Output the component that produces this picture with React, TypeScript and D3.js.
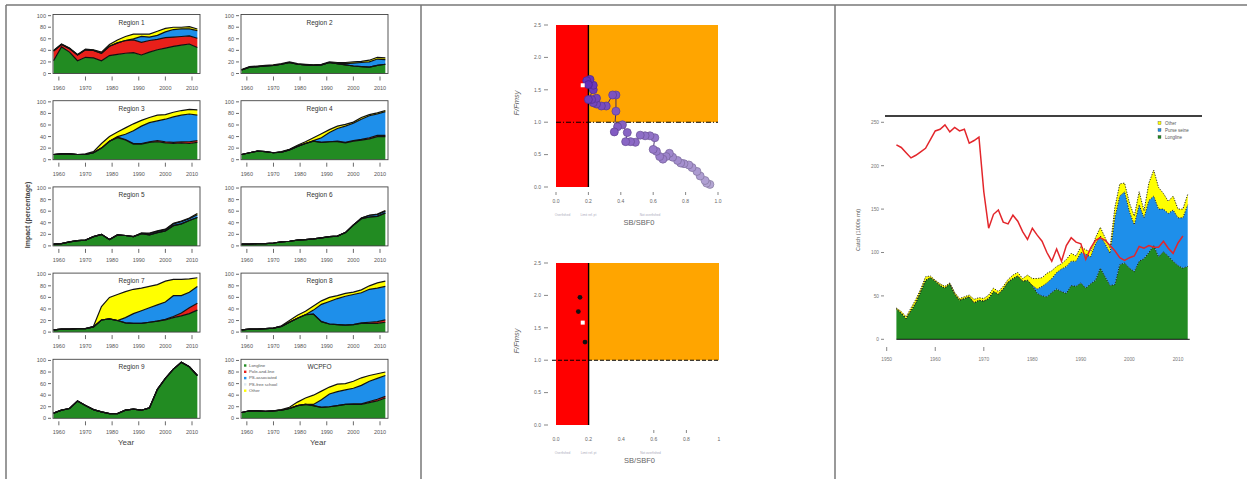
import React from "react";
import * as d3 from "d3";

// ---------- Regional fishery impact panels ----------
const impactYears = [1958, 1961, 1964, 1967, 1970, 1973, 1976, 1979, 1982, 1985, 1988, 1991, 1994, 1997, 2000, 2003, 2006, 2009, 2012];
const impactYearTicks = [1960, 1970, 1980, 1990, 2000, 2010];
const impactValueTicks = [0, 20, 40, 60, 80, 100];

const region1 = {
  longline: [22, 46, 37, 22, 28, 27, 22, 31, 33, 35, 36, 32, 37, 41, 44, 47, 49, 51, 45],
  poleLine: [17, 4, 6, 10, 13, 13, 13, 16, 20, 22, 22, 22, 20, 18, 18, 16, 15, 14, 16],
  psAssoc: [0, 0, 0, 0, 0, 0, 0, 0, 0, 0, 2, 10, 6, 7, 10, 13, 13, 12, 13],
  other: [1, 1, 1, 1, 1, 1, 2, 3, 5, 7, 8, 4, 5, 7, 6, 4, 3, 4, 3],
};
const region2 = {
  longline: [6, 11, 12, 13, 14, 16, 19, 16, 15, 14, 15, 19, 17, 15, 13, 12, 11, 14, 16],
  poleLine: [0, 0, 0, 0, 0, 0, 0, 0, 0, 0, 0, 0, 0, 0, 0, 0, 0, 0, 0],
  psAssoc: [0, 0, 0, 0, 0, 0, 0, 0, 0, 0, 0, 0, 0, 2, 5, 7, 9, 11, 8],
  other: [1, 1, 1, 1, 1, 1, 1, 1, 1, 1, 1, 1, 2, 2, 2, 2, 3, 3, 3],
};
const region3 = {
  longline: [9, 10, 10, 9, 9, 12, 20, 32, 38, 34, 27, 27, 30, 31, 29, 28, 29, 28, 30],
  poleLine: [0, 0, 0, 0, 0, 0, 0, 0, 1, 1, 1, 1, 1, 2, 2, 2, 2, 3, 3],
  psAssoc: [0, 0, 0, 0, 0, 0, 0, 0, 1, 9, 22, 30, 33, 34, 39, 44, 46, 48, 44],
  other: [0, 0, 0, 0, 1, 2, 8, 8, 8, 11, 12, 10, 9, 10, 8, 8, 8, 8, 9],
};
const region4 = {
  longline: [9, 12, 15, 14, 12, 13, 17, 23, 28, 32, 30, 31, 31, 29, 32, 34, 36, 40, 40],
  poleLine: [0, 0, 0, 0, 0, 0, 0, 0, 0, 0, 0, 0, 1, 1, 1, 1, 2, 2, 2],
  psAssoc: [0, 0, 0, 0, 0, 0, 0, 0, 0, 1, 8, 16, 22, 28, 30, 35, 38, 37, 41],
  other: [0, 0, 0, 0, 0, 1, 1, 2, 3, 5, 7, 5, 4, 3, 2, 3, 2, 2, 2],
};
const region5 = {
  longline: [3, 4, 7, 9, 10, 16, 20, 11, 19, 18, 16, 21, 19, 23, 26, 35, 38, 44, 49],
  poleLine: [0, 0, 0, 0, 0, 0, 0, 0, 0, 0, 0, 0, 0, 0, 0, 0, 0, 0, 0],
  psAssoc: [0, 0, 0, 0, 0, 0, 0, 0, 0, 0, 0, 1, 2, 2, 2, 3, 4, 3, 5],
  other: [0, 0, 0, 0, 0, 0, 0, 0, 0, 0, 0, 0, 1, 1, 1, 1, 1, 1, 2],
};
const region6 = {
  longline: [3, 3, 4, 4, 5, 7, 8, 10, 11, 12, 14, 16, 17, 23, 36, 47, 50, 51, 57],
  poleLine: [0, 0, 0, 0, 0, 0, 0, 0, 0, 0, 0, 0, 0, 0, 0, 0, 0, 0, 0],
  psAssoc: [0, 0, 0, 0, 0, 0, 0, 0, 0, 0, 0, 0, 0, 0, 0, 1, 3, 3, 3],
  other: [0, 0, 0, 0, 0, 0, 0, 0, 0, 0, 0, 0, 0, 0, 0, 0, 0, 1, 1],
};
const region7 = {
  longline: [4, 5, 5, 6, 6, 9, 21, 23, 20, 16, 15, 15, 17, 19, 21, 25, 28, 32, 38],
  poleLine: [0, 0, 0, 0, 0, 0, 0, 0, 0, 0, 0, 0, 0, 0, 1, 2, 5, 10, 12],
  psAssoc: [0, 0, 0, 0, 0, 0, 0, 0, 0, 9, 17, 22, 25, 28, 30, 36, 30, 27, 29],
  other: [0, 0, 0, 0, 0, 1, 23, 37, 45, 45, 42, 39, 37, 35, 36, 28, 28, 23, 15],
};
const region8 = {
  longline: [4, 5, 5, 6, 7, 10, 17, 24, 30, 31, 18, 14, 13, 12, 13, 15, 15, 15, 17],
  poleLine: [0, 0, 0, 0, 0, 0, 0, 0, 0, 0, 0, 0, 0, 0, 0, 1, 2, 3, 4],
  psAssoc: [0, 0, 0, 0, 0, 0, 0, 0, 0, 7, 30, 39, 45, 50, 52, 52, 57, 58, 58],
  other: [0, 0, 0, 0, 0, 1, 3, 5, 6, 7, 6, 7, 5, 5, 4, 5, 6, 9, 9],
};
const region9 = {
  longline: [9, 14, 17, 30, 22, 15, 11, 8, 8, 14, 16, 14, 18, 50, 69, 85, 97, 89, 74],
  poleLine: [0, 0, 0, 0, 0, 0, 0, 0, 0, 0, 0, 0, 0, 0, 0, 0, 0, 0, 0],
  psAssoc: [0, 0, 0, 0, 0, 0, 0, 0, 0, 0, 0, 0, 0, 0, 0, 0, 0, 0, 0],
  other: [0, 0, 0, 0, 0, 0, 0, 0, 0, 0, 0, 0, 0, 0, 0, 0, 0, 0, 0],
};
const wcpfo = {
  longline: [10, 13, 13, 12, 13, 14, 17, 22, 24, 22, 19, 20, 22, 24, 24, 24, 27, 30, 35],
  poleLine: [0, 0, 0, 0, 0, 0, 0, 0, 0, 0, 0, 0, 0, 0, 1, 1, 2, 3, 3],
  psAssoc: [0, 0, 0, 0, 0, 0, 0, 0, 0, 2, 13, 22, 24, 25, 27, 32, 35, 36, 36],
  other: [0, 0, 0, 0, 0, 1, 2, 6, 11, 16, 15, 12, 13, 11, 12, 13, 10, 8, 6],
};

const panelTitles = ["Region 1", "Region 2", "Region 3", "Region 4", "Region 5", "Region 6", "Region 7", "Region 8", "Region 9", "WCPFO"];
const panelSeries = [region1, region2, region3, region4, region5, region6, region7, region8, region9, wcpfo];

const gearKeys = ["longline", "poleLine", "psAssoc", "other"];
const gearColors: Record<string, string> = {
  longline: "#228B22",
  poleLine: "#E8201A",
  psAssoc: "#1E8FEA",
  other: "#FFFF00",
};
const legendLabels = ["Longline", "Pole-and-line", "PS-associated", "PS-free school", "Other"];
const legendColors = ["#228B22", "#E8201A", "#1E8FEA", "#dfe9f2", "#FFFF00"];

// ---------- Kobe plots ----------
const kobeSB = [0.95, 0.93, 0.92, 0.89, 0.87, 0.84, 0.82, 0.79, 0.77, 0.75, 0.72, 0.70, 0.68, 0.66, 0.64, 0.62, 0.60, 0.61, 0.58, 0.55, 0.52, 0.49, 0.46, 0.43, 0.44, 0.41, 0.38, 0.36, 0.37, 0.37, 0.35, 0.31, 0.28, 0.25, 0.23, 0.25, 0.22, 0.20, 0.23, 0.23, 0.21, 0.19, 0.20];
const kobeF = [0.04, 0.06, 0.10, 0.17, 0.24, 0.30, 0.34, 0.36, 0.37, 0.41, 0.46, 0.52, 0.47, 0.43, 0.47, 0.55, 0.58, 0.76, 0.79, 0.79, 0.80, 0.69, 0.70, 0.70, 0.84, 0.96, 0.93, 0.85, 1.17, 1.42, 1.42, 1.25, 1.25, 1.28, 1.30, 1.37, 1.35, 1.35, 1.50, 1.57, 1.66, 1.64, 1.58];
const kobeLatest = { sb: 0.165, f: 1.57 };
const kobeAltSB = [0.147, 0.137, 0.178];
const kobeAltF = [1.97, 1.75, 1.28];
const kobeAltLatest = { sb: 0.164, f: 1.58 };
const kobeYTicks = [0, 0.5, 1.0, 1.5, 2.0, 2.5];
const kobeXTicks = [0, 0.2, 0.4, 0.6, 0.8, 1.0];

// ---------- Catch by gear with red index line ----------
const catchYears = d3.range(1952, 2013);
const catchLongline = [
  35, 30, 24, 33, 42, 55, 68, 71, 67, 62,
  59, 64, 52, 45, 47, 49, 42, 45, 44, 47,
  55, 52, 58, 66, 70, 73, 67, 68, 62, 53,
  50, 49, 54, 58, 55, 53, 62, 61, 65, 59,
  64, 68, 82, 72, 62, 63, 86, 88, 82, 78,
  90, 93, 100, 108, 95, 101, 96, 90, 85, 82,
  84,
];
const catchPurseSeine = [
  0, 0, 0, 0, 0, 0, 0, 0, 0, 0,
  0, 0, 0, 0, 0, 0, 0, 0, 0, 0,
  0, 0, 0, 0, 0, 0, 0, 0, 0, 5,
  11, 16, 16, 19, 26, 31, 28, 29, 35, 39,
  31, 42, 37, 38, 37, 77, 79, 82, 65, 54,
  65, 47, 60, 57, 55, 49, 49, 59, 55, 58,
  71,
];
const catchOther = [
  1, 2, 2, 3, 4, 3, 4, 2, 1, 2,
  2, 1, 2, 2, 2, 2, 4, 3, 3, 4,
  4, 3, 3, 3, 4, 4, 3, 6, 8, 12,
  10, 11, 9, 7, 6, 8, 9, 6, 7, 5,
  6, 7, 10, 7, 6, 12, 14, 10, 10, 10,
  15, 8, 20, 30, 25, 18, 14, 16, 10, 10,
  12,
];
const indexYears = d3.range(1952, 2012);
const indexLine = [
  224, 221, 215, 209, 212, 216, 220, 230, 240, 242,
  247, 239, 244, 240, 242, 226, 229, 233, 170, 128,
  144, 149, 135, 133, 143, 136, 124, 115, 128, 120,
  113, 100, 90, 104, 90, 108, 117, 112, 110, 92,
  105, 114, 117, 114, 108, 102, 94, 91, 94, 96,
  107, 105, 108, 106, 106, 113, 105, 99, 111, 119,
];
const catchYTicks = [0, 50, 100, 150, 200, 250];
const catchXTicks = [1950, 1960, 1970, 1980, 1990, 2000, 2010];
const catchLegend = ["Other", "Purse seine", "Longline"];
const catchLegendColors = ["#FFFF00", "#1E8FEA", "#228B22"];

const FONT = "'Liberation Sans', Arial, Helvetica, sans-serif";

function ImpactPanel({ idx }: { idx: number }) {
  const col = idx % 2;
  const row = Math.floor(idx / 2);
  const left = col === 0 ? 53 : 241;
  const width = 147;
  const top = 14.5 + row * 86.2;
  const height = 59;
  const bottom = top + height;
  const x = d3.scaleLinear().domain([1957.8, 2013]).range([left, left + width]);
  const y = d3.scaleLinear().domain([0, 102]).range([bottom, top]);
  const series = panelSeries[idx] as Record<string, number[]>;
  const rows = impactYears.map((yr, i) => {
    const r: Record<string, number> = { year: yr };
    gearKeys.forEach((k) => (r[k] = series[k][i]));
    return r;
  });
  const stacked = d3.stack<Record<string, number>>().keys(gearKeys)(rows);
  const area = d3
    .area<d3.SeriesPoint<Record<string, number>>>()
    .x((d) => x(d.data.year))
    .y0((d) => y(d[0]))
    .y1((d) => y(d[1]));
  const topLine = d3
    .line<d3.SeriesPoint<Record<string, number>>>()
    .x((d) => x(d.data.year))
    .y((d) => y(d[1]));
  return (
    <g>
      <rect x={left} y={top} width={width} height={height} fill="#fff" />
      {stacked.map((s) => (
        <path key={s.key} d={area(s) || ""} fill={gearColors[s.key]} />
      ))}
      {stacked.map((s) => (
        <path key={"l" + s.key} d={topLine(s) || ""} fill="none" stroke="#111" strokeWidth={1.2} />
      ))}
      <rect x={left} y={top} width={width} height={height} fill="none" stroke="#444" strokeWidth={0.9} />
      {impactValueTicks.map((v) => (
        <g key={"y" + v}>
          <line x1={left - 5} x2={left - 2} y1={y(v)} y2={y(v)} stroke="#444" strokeWidth={0.8} />
          <text x={left - 7} y={y(v) + 2} fontSize={5.5} textAnchor="end" fill="#555" fontFamily={FONT}>
            {v}
          </text>
        </g>
      ))}
      {impactYearTicks.map((v) => (
        <g key={"x" + v}>
          <line x1={x(v)} x2={x(v)} y1={bottom + 3} y2={bottom + 7} stroke="#444" strokeWidth={0.8} />
          <text x={x(v)} y={bottom + 16} fontSize={5.5} textAnchor="middle" fill="#555" fontFamily={FONT}>
            {v}
          </text>
        </g>
      ))}
      <text x={left + width / 2 + 5} y={top + 10} fontSize={6.5} textAnchor="middle" fill="#333" fontFamily={FONT}>
        {panelTitles[idx]}
      </text>
      {idx === 9 &&
        legendLabels.map((lab, i) => (
          <g key={lab}>
            <rect x={left + 3} y={top + 5 + i * 6.3} width={2.4} height={2.4} fill={legendColors[i]} />
            <text x={left + 8} y={top + 7.5 + i * 6.3} fontSize={4.3} fill="#555" fontFamily={FONT}>
              {lab}
            </text>
          </g>
        ))}
    </g>
  );
}

function KobePlot({
  left,
  right,
  top,
  bottom,
  variant,
}: {
  left: number;
  right: number;
  top: number;
  bottom: number;
  variant: "history" | "alt";
}) {
  const x = d3.scaleLinear().domain([0, 1]).range([left, right]);
  const y = d3.scaleLinear().domain([0, 2.5]).range([bottom, top]);
  const n = kobeSB.length;
  const col = d3.interpolateRgb("#b4a6d4", "#6530b8");
  const path = d3
    .line<number>()
    .x((i) => x(kobeSB[i]))
    .y((i) => y(kobeF[i]))(d3.range(n));
  const latest = variant === "history" ? kobeLatest : kobeAltLatest;
  const xLabels = variant === "history" ? ["0.0", "0.2", "0.4", "0.6", "0.8", "1.0"] : ["0.0", "0.2", "0.4", "0.6", "0.8", "1"];
  return (
    <g>
      <rect x={x(0)} y={y(2.5)} width={x(0.2) - x(0)} height={y(0) - y(2.5)} fill="#FF0000" />
      <rect x={x(0.2)} y={y(2.5)} width={x(1) - x(0.2)} height={y(1) - y(2.5)} fill="#FFA500" />
      <line x1={x(0.2)} x2={x(0.2)} y1={y(0)} y2={y(2.5)} stroke="#000" strokeWidth={1.4} />
      <line
        x1={x(0) - (variant === "alt" ? 4 : 0)}
        x2={x(1)}
        y1={y(1)}
        y2={y(1)}
        stroke="#000"
        strokeWidth={1.1}
        strokeDasharray={variant === "history" ? "5,2,1,2" : "4,2"}
      />
      {variant === "history" && (
        <g>
          <path d={path || ""} fill="none" stroke="#3a2060" strokeWidth={0.9} />
          {d3.range(n).map((i) => {
            const c = col(i / (n - 1));
            return (
              <circle
                key={i}
                cx={x(kobeSB[i])}
                cy={y(kobeF[i])}
                r={4}
                fill={c}
                stroke={d3.color(c)!.darker(0.7).toString()}
                strokeWidth={0.8}
              />
            );
          })}
        </g>
      )}
      {variant === "alt" &&
        kobeAltSB.map((sb, i) => <circle key={i} cx={x(sb)} cy={y(kobeAltF[i])} r={2.4} fill="#111" />)}
      <rect x={x(latest.sb) - 2} y={y(latest.f) - 2} width={4} height={4} fill="#fff" />
      {kobeYTicks.map((v) => (
        <g key={"ky" + v}>
          <line x1={left - 12} x2={left - 8} y1={y(v)} y2={y(v)} stroke="#555" strokeWidth={0.7} />
          <text x={left - 15} y={y(v) + 1.8} fontSize={5} textAnchor="end" fill="#666" fontFamily={FONT}>
            {v.toFixed(1)}
          </text>
        </g>
      ))}
      {kobeXTicks.map((v, i) => (
        <g key={"kx" + v}>
          {(variant === "history" || i === 3 || i === 4) && (
            <line x1={x(v)} x2={x(v)} y1={bottom + 5} y2={bottom + 8} stroke="#555" strokeWidth={0.7} />
          )}
          <text x={x(v)} y={bottom + 16} fontSize={5} textAnchor="middle" fill="#666" fontFamily={FONT}>
            {xLabels[i]}
          </text>
        </g>
      ))}
      <text x={x(0.04)} y={bottom + 29} fontSize={3.2} textAnchor="middle" fill="#aab" fontFamily={FONT}>
        Overfished
      </text>
      <text x={x(0.2)} y={bottom + 29} fontSize={3.2} textAnchor="middle" fill="#aab" fontFamily={FONT}>
        Limit ref. pt
      </text>
      <text x={x(0.58)} y={bottom + 29} fontSize={3.2} textAnchor="middle" fill="#aab" fontFamily={FONT}>
        Not overfished
      </text>
      <text x={(left + right) / 2 + 2} y={bottom + 38} fontSize={7.5} textAnchor="middle" fill="#666" fontFamily={FONT}>
        SB/SBF0
      </text>
      <text
        transform={`translate(${left - 37},${(top + bottom) / 2 - 3}) rotate(-90)`}
        fontSize={7.5}
        fontStyle="italic"
        textAnchor="middle"
        fill="#555"
        fontFamily={FONT}
      >
        F/Fmsy
      </text>
    </g>
  );
}

function CatchChart() {
  const x = d3.scaleLinear().domain([1950, 2010]).range([886.7, 1178]);
  const y = d3.scaleLinear().domain([0, 250]).range([339.3, 122.3]);
  const rows = catchYears.map((yr, i) => ({
    year: yr,
    longline: catchLongline[i],
    purse: catchPurseSeine[i],
    other: catchOther[i],
  }));
  const keys = ["longline", "purse", "other"];
  const colors: Record<string, string> = { longline: "#228B22", purse: "#1E8FEA", other: "#FFFF00" };
  const stacked = d3.stack<any>().keys(keys)(rows);
  const area = d3
    .area<any>()
    .x((d) => x(d.data.year))
    .y0((d) => y(d[0]))
    .y1((d) => y(d[1]));
  const topLine = d3
    .line<any>()
    .x((d) => x(d.data.year))
    .y((d) => y(d[1]));
  const red = d3
    .line<number>()
    .x((d) => x(d))
    .y((_, i) => y(indexLine[i]))(indexYears);
  return (
    <g>
      <line x1={885} x2={1202} y1={116} y2={116} stroke="#000" strokeWidth={1.3} />
      {stacked.map((s) => (
        <path key={s.key} d={area(s) || ""} fill={colors[s.key]} />
      ))}
      {stacked.map((s) => (
        <path key={"b" + s.key} d={topLine(s) || ""} fill="none" stroke="#111" strokeWidth={0.9} strokeDasharray="1.2,1.4" />
      ))}
      <line x1={x(1952)} x2={x(2012) + 2} y1={y(0)} y2={y(0)} stroke="#111" strokeWidth={1} />
      <path d={red || ""} fill="none" stroke="#E3262B" strokeWidth={1.5} />
      {catchYTicks.map((v) => (
        <g key={"cy" + v}>
          <line x1={881} x2={884} y1={y(v)} y2={y(v)} stroke="#555" strokeWidth={0.7} />
          <text x={879} y={y(v) + 1.8} fontSize={4.8} textAnchor="end" fill="#777" fontFamily={FONT}>
            {v}
          </text>
        </g>
      ))}
      {catchXTicks.map((v, i) => (
        <g key={"cx" + v}>
          {i < 3 && <line x1={x(v)} x2={x(v)} y1={347} y2={351} stroke="#555" strokeWidth={0.7} />}
          <text x={x(v)} y={361} fontSize={4.8} textAnchor="middle" fill="#777" fontFamily={FONT}>
            {v}
          </text>
        </g>
      ))}
      <text
        transform={`translate(860,230) rotate(-90)`}
        fontSize={5.5}
        textAnchor="middle"
        fill="#555"
        fontFamily={FONT}
      >
        Catch (1000s mt)
      </text>
      {catchLegend.map((lab, i) => (
        <g key={lab}>
          <rect x={1158} y={121.5 + i * 7} width={3} height={3} fill={catchLegendColors[i]} stroke="#333" strokeWidth={0.3} />
          <text x={1165} y={124.5 + i * 7} fontSize={4.5} fill="#555" fontFamily={FONT}>
            {lab}
          </text>
        </g>
      ))}
    </g>
  );
}

export default function App() {
  return (
    <svg
      width={1247}
      height={479}
      viewBox="0 0 1247 479"
      style={{ position: "absolute", left: 0, top: 0, background: "#fff" }}
    >
      <rect x={0} y={0} width={1247} height={479} fill="#fff" />
      {/* frame */}
      <line x1={6} x2={1247} y1={5} y2={5} stroke="#777" strokeWidth={1.5} />
      <line x1={6} x2={6} y1={5} y2={479} stroke="#777" strokeWidth={1.5} />
      <line x1={421} x2={421} y1={5} y2={479} stroke="#777" strokeWidth={1.5} />
      <line x1={835} x2={835} y1={5} y2={479} stroke="#777" strokeWidth={1.5} />

      {panelTitles.map((_, i) => (
        <ImpactPanel key={i} idx={i} />
      ))}
      <text
        transform="translate(30,215) rotate(-90)"
        fontSize={7}
        fontWeight="bold"
        textAnchor="middle"
        fill="#444"
        fontFamily={FONT}
      >
        Impact (percentage)
      </text>
      <text x={126} y={445} fontSize={8} textAnchor="middle" fill="#444" fontFamily={FONT}>
        Year
      </text>
      <text x={318} y={445} fontSize={8} textAnchor="middle" fill="#444" fontFamily={FONT}>
        Year
      </text>

      <KobePlot left={556} right={718} top={25} bottom={187} variant="history" />
      <KobePlot left={556} right={719} top={263} bottom={425} variant="alt" />

      <CatchChart />
    </svg>
  );
}
